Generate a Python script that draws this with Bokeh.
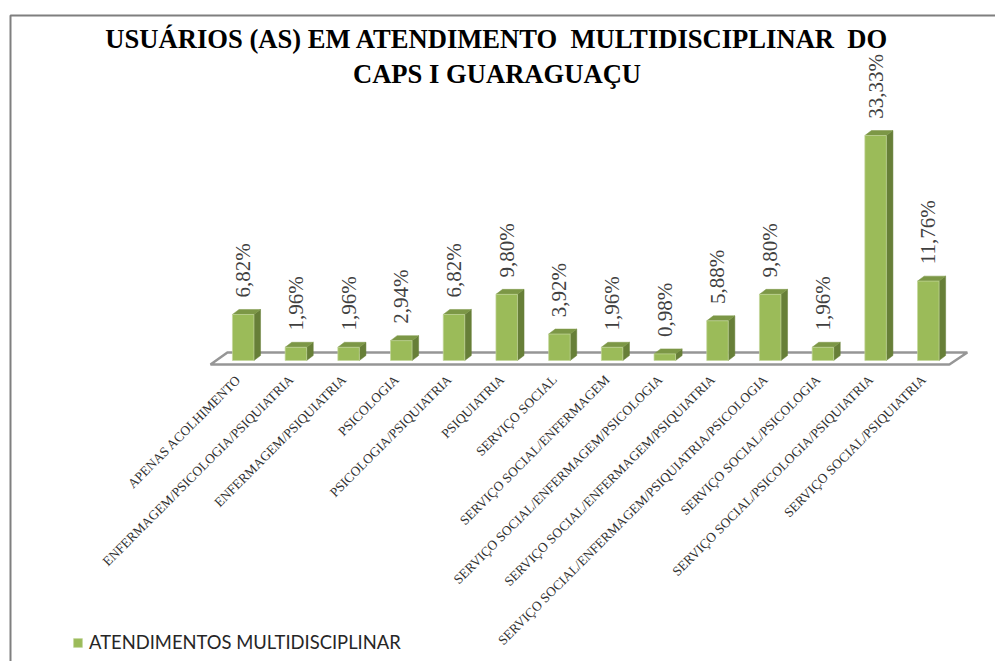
from bokeh.plotting import figure
from bokeh.models import Range1d, Label, BoxAnnotation, Legend, LegendItem, ColumnDataSource
from bokeh.core.properties import value
from bokeh.embed import file_html
from bokeh.resources import INLINE

categories = ["APENAS ACOLHIMENTO", "ENFERMAGEM/PSICOLOGIA/PSIQUIATRIA", "ENFERMAGEM/PSIQUIATRIA",
              "PSICOLOGIA", "PSICOLOGIA/PSIQUIATRIA", "PSIQUIATRIA", "SERVIÇO SOCIAL",
              "SERVIÇO SOCIAL/ENFERMAGEM", "SERVIÇO SOCIAL/ENFERMAGEM/PSICOLOGIA",
              "SERVIÇO SOCIAL/ENFERMAGEM/PSIQUIATRIA", "SERVIÇO SOCIAL/ENFERMAGEM/PSIQUIATRIA/PSICOLOGIA",
              "SERVIÇO SOCIAL/PSICOLOGIA", "SERVIÇO SOCIAL/PSICOLOGIA/PSIQUIATRIA", "SERVIÇO SOCIAL/PSIQUIATRIA"]
values = [6.82, 1.96, 1.96, 2.94, 6.82, 9.80, 3.92, 1.96, 0.98, 5.88, 9.80, 1.96, 33.33, 11.76]
series_name = "ATENDIMENTOS MULTIDISCIPLINAR"
title_lines = ["USUÁRIOS (AS) EM ATENDIMENTO\u00a0 MULTIDISCIPLINAR\u00a0 DO", "CAPS I GUARAGUAÇU"]

W, H = 995, 661
PX_X, PX_Y = 52.7, 6.75          # pixels per category / per percent
X0, Y0 = 242.7, 360              # pixel position of first category centre and of the baseline
half = 0.204                     # half bar width in category units
dx, dy = 0.125, 0.74             # 3D depth

p = figure(width=W, height=H, output_backend="svg", toolbar_location=None, min_border=0,
           x_range=Range1d(-X0 / PX_X, (W - X0) / PX_X),
           y_range=Range1d(-(H - Y0) / PX_Y, Y0 / PX_Y),
           background_fill_color="white", border_fill_color="white", outline_line_color=None)
p.xaxis.visible = False
p.yaxis.visible = False
p.grid.visible = False

# chart frame: only its top and left edges are on the page
p.add_layout(BoxAnnotation(left=10, right=1100, top=H - 15, bottom=-100, left_units="screen", right_units="screen",
                           top_units="screen", bottom_units="screen", fill_alpha=0,
                           line_color="#7f7f7f", line_alpha=1, line_width=2))

# floor of the 3D chart
n = len(categories)
p.patch([-0.62, -0.30, n - 0.26, n - 0.60], [-0.6, 1.19, 1.19, -0.6], fill_color="white",
        line_color="#969696", line_width=2.5)

xs = list(range(n))
front = ColumnDataSource(dict(left=[i - half for i in xs], right=[i + half for i in xs],
                              top=values, bottom=[0] * n))
side_x = [[i + half, i + half + dx, i + half + dx, i + half] for i in xs]
side_y = [[0, dy, v + dy, v] for v in values]
top_x = [[i - half, i - half + dx, i + half + dx, i + half] for i in xs]
top_y = [[v, v + dy, v + dy, v] for v in values]
p.patches(side_x, side_y, fill_color="#677F38", line_color="#677F38", line_width=0.5)
p.patches(top_x, top_y, fill_color="#7C9746", line_color="#7C9746", line_width=0.5)
bars = p.quad(left="left", right="right", top="top", bottom="bottom", source=front,
              fill_color="#9BBB59", line_color="#C3D69B", line_width=0.7)

# value labels
p.text(x=xs, y=[v + 2.5 for v in values],
       text=[f"{v:.2f}%".replace(".", ",") for v in values], angle=1.5708, angle_units="rad",
       text_align="left", text_baseline="middle", text_font=value("Liberation Serif"),
       text_font_size="21px", text_color="#404040")

# category labels
p.text(x=[i - 0.09 for i in xs], y=[-2.5] * n, text=categories, angle=0.7854, angle_units="rad",
       text_align="right", text_baseline="middle", text_font=value("Liberation Serif"),
       text_font_size="13.4px", text_color="#303030")

# title
for line, sy in zip(title_lines, [H - 38, H - 73]):
    p.add_layout(Label(x=496.5, y=sy, x_units="screen", y_units="screen", text=line, text_align="center",
                       text_baseline="middle", text_font="Liberation Serif", text_font_style="bold",
                       text_font_size="26.6px", text_color="#000000"))

legend = Legend(items=[LegendItem(label=series_name, renderers=[bars])], location=(72, 8),
                border_line_color=None, background_fill_alpha=0, glyph_width=11, glyph_height=11,
                label_text_font="Lato", label_text_font_size="18.4px", label_text_color="#262626",
                margin=0, padding=0, label_standoff=6)
p.add_layout(legend)

open("out.html", "w").write(file_html(p, INLINE))
